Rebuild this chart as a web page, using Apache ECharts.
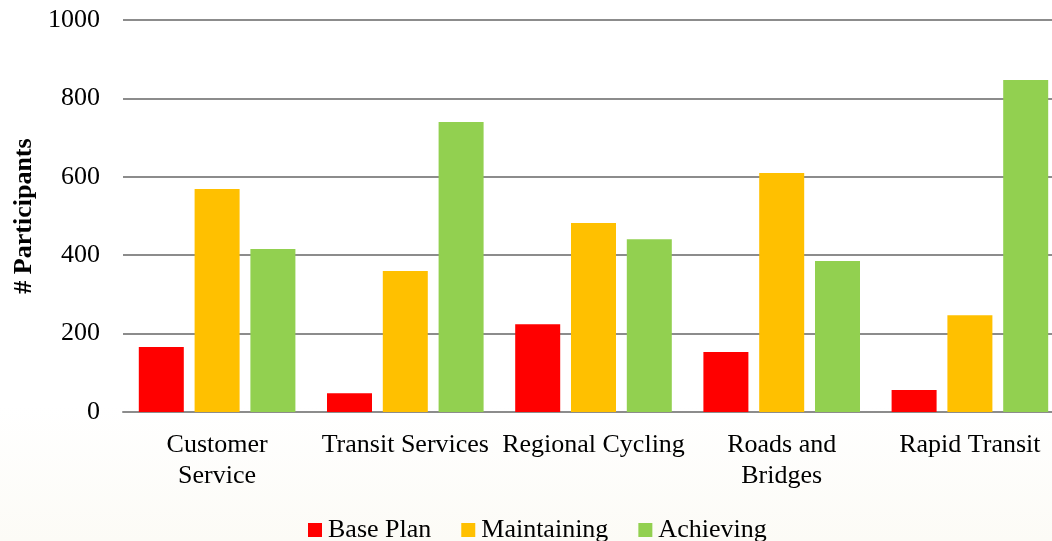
<!DOCTYPE html>
<html>
<head>
<meta charset="utf-8">
<script src="https://cdn.jsdelivr.net/npm/echarts@6/dist/echarts.min.js"></script>
<style>
html,body{margin:0;padding:0;background:#fff;}
#chart{width:1052px;height:541px;}
</style>
</head>
<body>
<div id="chart"></div>
<script>
const categories = ['Customer\nService', 'Transit Services', 'Regional Cycling', 'Roads and\nBridges', 'Rapid Transit'];
const basePlan = [166, 48, 224, 153, 56];
const maintaining = [569, 360, 482, 610, 247];
const achieving = [416, 740, 441, 385, 847];
const yTicks = { min: 0, max: 1000, interval: 200 };

const font = '"Liberation Serif", "Times New Roman", serif';
const chart = echarts.init(document.getElementById('chart'), null, { renderer: 'canvas' });
chart.setOption({
  animation: false,
  backgroundColor: {
    type: 'linear', x: 0, y: 0, x2: 0, y2: 1,
    colorStops: [{ offset: 0, color: '#ffffff' }, { offset: 0.75, color: '#ffffff' }, { offset: 1, color: '#fcfbf6' }]
  },
  textStyle: { fontFamily: font },
  grid: { left: 123, right: -12, top: 20, bottom: 129, containLabel: false, outerBoundsMode: 'none' },
  legend: {
    top: 517,
    left: 308,
    padding: 0,
    itemWidth: 14,
    itemHeight: 14,
    itemGap: 30,
    icon: 'rect',
    textStyle: { fontFamily: font, fontSize: 26, color: '#000', padding: [0, 0, 0, 1] },
    data: ['Base Plan', 'Maintaining', 'Achieving']
  },
  xAxis: {
    type: 'category',
    data: categories,
    axisLine: { show: true, lineStyle: { color: '#8c8c8c', width: 2 } },
    axisTick: { show: false },
    axisLabel: { fontFamily: font, fontSize: 26, color: '#000', margin: 18, lineHeight: 31, interval: 0 }
  },
  yAxis: {
    type: 'value',
    min: yTicks.min, max: yTicks.max, interval: yTicks.interval,
    name: '# Participants',
    nameLocation: 'middle',
    nameGap: 84,
    nameRotate: 90,
    nameTextStyle: { fontFamily: font, fontSize: 26, fontWeight: 'bold', color: '#000' },
    axisLine: { show: false },
    axisTick: { show: false },
    axisLabel: { fontFamily: font, fontSize: 26, color: '#000', margin: 23, formatter: v => String(v) },
    splitLine: { lineStyle: { color: '#8c8c8c', width: 2 } }
  },
  series: [
    { name: 'Base Plan', type: 'bar', data: basePlan, barWidth: 45, barGap: '24%', itemStyle: { color: '#FF0000' } },
    { name: 'Maintaining', type: 'bar', data: maintaining, barWidth: 45, barGap: '24%', itemStyle: { color: '#FFC000' } },
    { name: 'Achieving', type: 'bar', data: achieving, barWidth: 45, barGap: '24%', itemStyle: { color: '#92D050' } }
  ]
});
</script>
</body>
</html>
